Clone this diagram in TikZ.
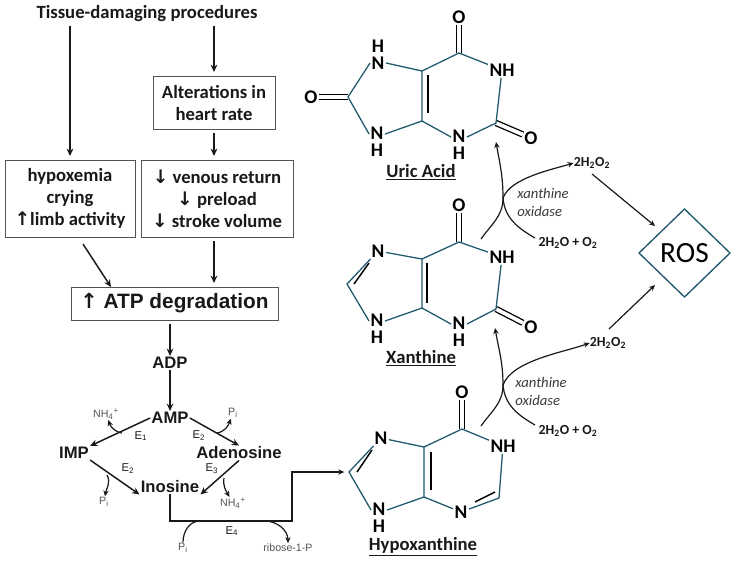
\documentclass[tikz,border=0pt]{standalone}
\usepackage{fontspec}
\setmainfont{Carlito}
\newfontfamily\arialfont{Liberation Sans}
\newfontfamily\arrowfont{DejaVu Sans}
\usetikzlibrary{shapes.geometric,arrows.meta}
\definecolor{Ring}{RGB}{31,88,107}
\definecolor{Ink}{RGB}{25,25,25}
\definecolor{Faint}{RGB}{85,85,85}
\tikzset{
  tbox/.style={rectangle,draw=Ink!75,line width=.6pt,align=center,inner sep=0pt,outer sep=3pt,
               font=\fontsize{14}{16.5}\selectfont\bfseries,text=Ink},
  meta/.style={font=\fontsize{12.5}{14}\selectfont\arialfont\bfseries,text=Ink,inner sep=1pt,outer sep=0pt},
  tiny/.style={font=\fontsize{8}{9}\selectfont\arialfont,text=Faint,inner sep=.5pt},
  enz/.style={font=\fontsize{8.5}{9}\selectfont\arialfont,text=Ink,inner sep=0pt},
  atom/.style={font=\fontsize{14.5}{12.6}\selectfont\bfseries,text=black,inner sep=1pt,align=center},
  molname/.style={font=\fontsize{14}{15}\selectfont\bfseries,text=Ink,inner sep=0pt},
  gas/.style={font=\fontsize{10.4}{11}\selectfont\bfseries,text=Ink,inner sep=0pt},
  oxi/.style={font=\fontsize{11}{13.5}\selectfont\itshape,text=Ink!85,inner sep=0pt,align=left},
  flow/.style={-{Stealth[length=5.5pt,width=5pt]},Ink,line width=1.1pt},
  thin flow/.style={-{Stealth[length=4.5pt,width=4pt]},Ink,line width=.9pt},
  bond/.style={Ring,line width=.95pt},
  dbond/.style={draw=black,double=white,double distance=2.8pt,line width=1pt},
  ibond/.style={black,line width=1.1pt},
}
\begin{document}
\begin{tikzpicture}[x=.75pt,y=-.75pt]
  \useasboundingbox (0,0) rectangle (738,562);
  % left column
  \node[font=\fontsize{14}{15}\selectfont\bfseries,text=Ink,inner sep=0pt,outer sep=3pt] (tissue) at (147,14) {Tissue-damaging procedures};
  \node[tbox,minimum width=91.5pt,minimum height=39.75pt] (alter) at (214,102.5) {Alterations in\\heart rate};
  \node[tbox,minimum width=97.5pt,minimum height=57.75pt] (hypox) at (70,198.5) {hypoxemia\\crying\\{\arrowfont\textbf{\char"2191}}limb activity};
  \node[tbox,minimum width=114pt,minimum height=57.75pt] (venous) at (217,198.5) {{\arrowfont\char"2193} venous return\\{\arrowfont\char"2193} preload\\{\arrowfont\char"2193} stroke volume};
  \node[tbox,minimum width=155.25pt,minimum height=24.75pt,font=\fontsize{15.6}{16}\selectfont\arialfont\bfseries] (atp) at (174.5,303.5) {{\arrowfont\char"2191} ATP degradation};
  \node[meta] (adp) at (170,363) {ADP};
  \node[meta] (amp) at (170,418) {AMP};
  \node[meta] (imp) at (74,453) {IMP};
  \node[meta] (ado) at (239,453) {Adenosine};
  \node[meta] (ino) at (170,487) {Inosine};
  %
  \node[tiny] (nhA) at (106,414) {NH\textsubscript{4}\textsuperscript{+}};
  \node[tiny] (piA) at (233,413) {P\textsubscript{i}};
  \node[tiny] (piB) at (104,502) {P\textsubscript{i}};
  \node[tiny] (nhB) at (233,503) {NH\textsubscript{4}\textsuperscript{+}};
  \node[tiny] (piC) at (183,548) {P\textsubscript{i}};
  \node[tiny] (ribose) at (288,548) {ribose-1-P};
  \node[enz] (eOne) at (141,436) {E\textsubscript{1}};
  \node[enz] (eTwoA) at (199,436) {E\textsubscript{2}};
  \node[enz] (eTwoB) at (128,469) {E\textsubscript{2}};
  \node[enz] (eThree) at (212,469) {E\textsubscript{3}};
  \node[enz] (eFour) at (232,531) {E\textsubscript{4}};
  %
  \coordinate (hypoxOut) at (83,244);
  \coordinate (atpIn) at (111,287);
  \coordinate (nhAOut) at (122,433);
  \coordinate (piAOut) at (217,433);
  \coordinate (piBOut) at (107,475);
  \coordinate (nhBOut) at (224,478);
  \coordinate (piCIn) at (200,521);
  \coordinate (ribOut) at (265,521);
  \coordinate (turnLow) at (169,521);
  \coordinate (turnUp) at (292,521);
  %
  \draw[flow] (tissue.south -| hypox) -- (hypox);
  \draw[flow] (tissue.south -| alter) -- (alter);
  \draw[flow] (alter) -- (venous.north -| alter);
  \draw[flow] (hypoxOut) -- (atpIn);
  \draw[flow] (venous.south -| alter) -- (atp.north -| alter);
  \draw[flow] (atp.south -| adp) -- (adp);
  \draw[flow] (adp) -- (amp);
  \draw[flow] (amp.west) -- (imp.north east);
  \draw[flow] (amp.east) -- (ado.north);
  \draw[flow] (imp.south east) -- (ino.south west);
  \draw[flow] (ado.south) -- (ino.south east);
  \draw[thin flow] (nhAOut) to[out=170,in=-70] (nhA);
  \draw[thin flow] (piAOut) to[out=10,in=-110] (piA);
  \draw[thin flow] (piBOut) to[out=-60,in=80] (piB);
  \draw[thin flow] (nhBOut) to[out=-100,in=120] (nhB);
  \draw[Ink,line width=.9pt] (piC) to[out=90,in=180] (piCIn);
  \draw[thin flow] (ribOut) to[out=0,in=90] (ribose);
  % uric acid
  \node[atom] (uO6) at (459,17) {O};
  \node[atom] (uN1) at (502,70) {NH};
  \node[atom] (uO2) at (531,138) {O};
  \node[atom] (uN3) at (459,145) {N\\H};
  \node[atom] (uN7) at (378,55) {H\\N};
  \node[atom] (uN9) at (377,142) {N\\H};
  \node[atom] (uO8) at (311,97) {O};
  \coordinate (uC6) at (459,53);
  \coordinate (uC2) at (496,123);
  \coordinate (uC4) at (422,121);
  \coordinate (uC5) at (422,71);
  \coordinate (uC8) at (348,97);
  \coordinate (uInA) at (428,75);
  \coordinate (uInB) at (428,113);
  \draw[dbond] (uC6) -- (uO6);
  \draw[dbond] (uC2) -- (uO2);
  \draw[dbond] (uC8) -- (uO8);
  \draw[ibond] (uInA) -- (uInB);
  \draw[bond] (uN7.-45) -- (uC5) -- (uC6) -- (uN1) -- (uC2) -- (uN3.45);
  \draw[bond] (uN3.135) -- (uC4) -- (uC5);
  \draw[bond] (uC4) -- (uN9.45);
  \draw[bond] (uN9.135) -- (uC8) -- (uN7.-135);
  \node[molname] (uric) at (421,172) {\underline{Uric Acid}};
  % xanthine
  \node[atom] (xO6) at (459,205) {O};
  \node[atom] (xN1) at (502,257) {NH};
  \node[atom] (xO2) at (531,327) {O};
  \node[atom] (xN3) at (459,332) {N\\H};
  \node[atom] (xN7) at (378,251) {N};
  \node[atom] (xN9) at (377,329) {N\\H};
  \coordinate (xC6) at (459,242);
  \coordinate (xC2) at (496,309);
  \coordinate (xC4) at (422,308);
  \coordinate (xC5) at (422,259);
  \coordinate (xC8) at (347,284);
  \coordinate (xInA) at (427,263);
  \coordinate (xInB) at (427,303);
  \coordinate (xInC) at (369,263);
  \coordinate (xInD) at (354,284);
  \draw[dbond] (xC6) -- (xO6);
  \draw[dbond] (xC2) -- (xO2);
  \draw[ibond] (xInA) -- (xInB);
  \draw[ibond] (xInC) -- (xInD);
  \draw[bond] (xN7) -- (xC5) -- (xC6) -- (xN1) -- (xC2) -- (xN3.45);
  \draw[bond] (xN3.135) -- (xC4) -- (xC5);
  \draw[bond] (xC4) -- (xN9.45);
  \draw[bond] (xN9.135) -- (xC8) -- (xN7);
  \node[molname] (xan) at (421,358) {\underline{Xanthine}};
  % hypoxanthine
  \node[atom] (hO6) at (462,392) {O};
  \node[atom] (hN1) at (503,446) {NH};
  \node[atom] (hN3) at (461,512) {N};
  \node[atom] (hN7) at (381,438) {N};
  \node[atom] (hN9) at (379,518) {N\\H};
  \coordinate (hC6) at (462,429);
  \coordinate (hC2) at (499,498);
  \coordinate (hC4) at (424,497);
  \coordinate (hC5) at (424,447);
  \coordinate (hC8) at (349,472);
  \coordinate (hInA) at (431,452);
  \coordinate (hInB) at (431,490);
  \coordinate (hInC) at (372,450);
  \coordinate (hInD) at (357,472);
  \coordinate (hInE) at (475,502);
  \coordinate (hInF) at (495,492);
  \draw[dbond] (hC6) -- (hO6);
  \draw[ibond] (hInA) -- (hInB);
  \draw[ibond] (hInC) -- (hInD);
  \draw[ibond] (hInE) -- (hInF);
  \draw[bond] (hN7) -- (hC5) -- (hC6) -- (hN1) -- (hC2) -- (hN3) -- (hC4) -- (hC5);
  \draw[bond] (hC4) -- (hN9.45);
  \draw[bond] (hN9.135) -- (hC8) -- (hN7);
  \node[molname] (hyp) at (423,547) {\underline{Hypoxanthine}};
  %
  \draw[thin flow,shorten >=3.5pt] (ino.south) |- (turnLow) -- (turnUp) |- (hC8);
  % xanthine oxidase steps
  \node[gas] (peroxA) at (592,163) {2H\textsubscript{2}O\textsubscript{2}};
  \node[gas] (waterA) at (568,243) {2H\textsubscript{2}O + O\textsubscript{2}};
  \node[oxi] (oxiA) at (543,202) {xanthine\\oxidase};
  \node[gas] (peroxB) at (608,343) {2H\textsubscript{2}O\textsubscript{2}};
  \node[gas] (waterB) at (568,431) {2H\textsubscript{2}O + O\textsubscript{2}};
  \node[oxi] (oxiB) at (541,391.5) {xanthine\\oxidase};
  \node[diamond,draw=Ring,line width=1pt,minimum width=68.25pt,minimum height=66pt,inner sep=0pt,
        font=\fontsize{22}{24}\selectfont,outer sep=0pt] (ros) at (684.5,253) {ROS};
  \coordinate (junA) at (503,198);
  \coordinate (startA) at (481,239);
  \coordinate (tipA) at (496,142);
  \coordinate (backA) at (535,238);
  \coordinate (junB) at (503,385);
  \coordinate (startB) at (481,426);
  \coordinate (tipB) at (495,328);
  \coordinate (backB) at (535,425);
  \coordinate (rosInA) at (655,226);
  \coordinate (rosInB) at (655,285);
  \coordinate (peroxOutA) at (592,174);
  \coordinate (peroxOutB) at (609,329);
  \draw[thin flow] (startA) to[out=55,in=-90] (junA) to[out=90,in=-80] (tipA);
  \draw[thin flow] (backA) to[out=150,in=-85] (junA) to[out=70,in=197,looseness=.7] (peroxA.west);
  \draw[thin flow] (startB) to[out=55,in=-90] (junB) to[out=90,in=-80] (tipB);
  \draw[thin flow] (backB) to[out=150,in=-85] (junB) to[out=70,in=200,looseness=.7] (peroxB.west);
  \draw[thin flow] (peroxOutA) -- (rosInA);
  \draw[thin flow] (peroxOutB) -- (rosInB);
\end{tikzpicture}
\end{document}
